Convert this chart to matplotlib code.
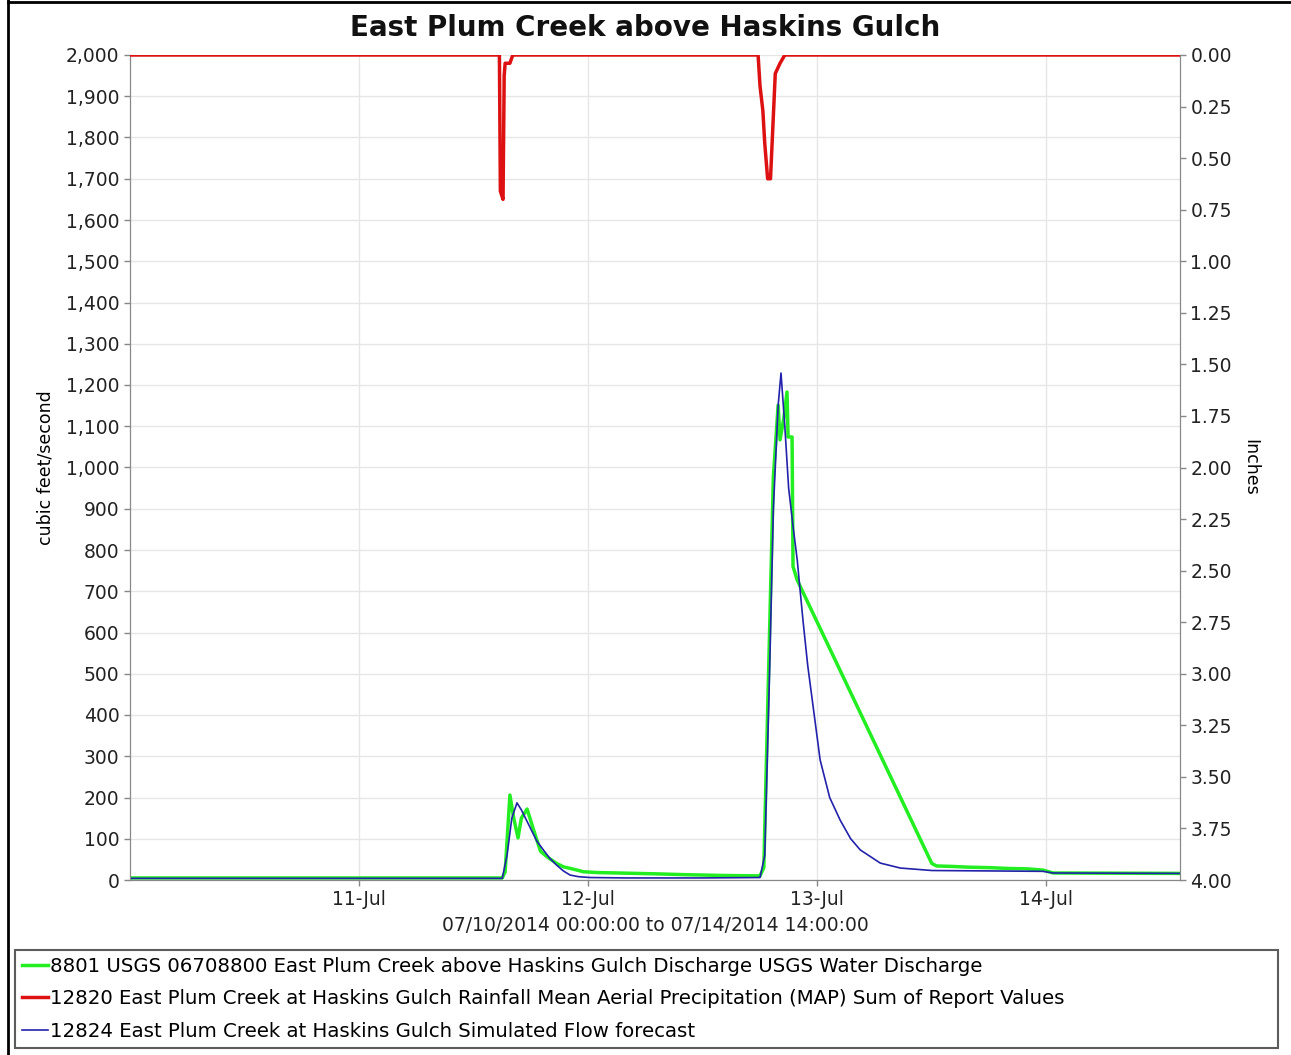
import numpy as np
import pandas as pd
import matplotlib
matplotlib.use("Agg")
import matplotlib.pyplot as plt
import matplotlib.dates as mdates
from matplotlib.ticker import FuncFormatter, MultipleLocator
from matplotlib.lines import Line2D

# Data (hours since 07/10/2014 00:00)
start = pd.Timestamp("2014-07-10 00:00")
end = pd.Timestamp("2014-07-14 14:00")

obs_hours = [0.0, 39.0, 39.3, 39.8, 40.2, 40.65, 41.0, 41.6, 42.3, 43.0, 43.7,
             44.7, 45.4, 46.5, 47.5, 49.0, 51.1, 55.0, 58.0, 62.0, 66.0,
             66.4, 67.4, 67.9, 68.1, 68.5, 68.83, 68.94, 69.36, 69.46, 69.9,
             84.0, 84.5, 86.0, 88.0, 90.0, 92.0, 94.0, 95.65, 96.7, 110.0]
obs_cfs = [5, 5, 20, 206, 150, 102, 150, 172, 120, 70, 56,
           40, 32, 26, 20, 18, 17, 15, 13, 11, 10,
           30, 977, 1151, 1067, 1120, 1183, 1074, 1074, 760, 727,
           40, 34, 33, 31, 30, 28, 27, 24, 17, 16]

sim_hours = [0.0, 39.0, 39.5, 40.0, 40.54, 41.0, 41.9, 42.6, 43.3, 44.0,
             44.7, 45.4, 46.1, 47.0, 48.2, 52.0, 60.0, 66.0, 66.5, 67.0,
             67.4, 67.9, 68.2, 68.6, 69.0, 69.5, 69.9, 70.5, 71.0, 72.3,
             73.3, 74.4, 75.5, 76.5, 78.6, 80.7, 84.0, 90.0, 95.65, 96.7, 110.0]
sim_cfs = [4, 4, 60, 150, 187, 170, 128, 95, 73, 52,
           36, 22, 12, 8, 6, 5, 5, 6, 60, 500,
           900, 1150, 1229, 1100, 950, 850, 776, 630, 520, 291,
           200, 145, 100, 73, 41, 29, 23, 22, 21, 17, 16]

rain_hours = [0.0, 38.7, 38.8, 39.08, 39.2, 39.3, 39.8, 40.1, 65.8, 66.0,
              66.3, 66.5, 66.8, 67.1, 67.6, 68.1, 68.6, 110.0]
rain_in = [0.0, 0.0, 0.66, 0.70, 0.10, 0.04, 0.04, 0.0, 0.0, 0.15,
           0.27, 0.43, 0.60, 0.60, 0.09, 0.04, 0.0, 0.0]

day_ticks = ["2014-07-11", "2014-07-12", "2014-07-13", "2014-07-14"]

title = "East Plum Creek above Haskins Gulch"
legend_labels = [
    "8801 USGS 06708800 East Plum Creek above Haskins Gulch Discharge USGS Water Discharge",
    "12820 East Plum Creek at Haskins Gulch Rainfall Mean Aerial Precipitation (MAP) Sum of Report Values",
    "12824 East Plum Creek at Haskins Gulch Simulated Flow forecast",
]
green = "#22ee22"
red = "#dd1111"
blue = "#2222aa"
axis_gray = "#888888"


def to_time(hours):
    return [start + pd.Timedelta(hours=h) for h in hours]


fig = plt.figure(figsize=(12.91, 10.55), dpi=100)
ax = fig.add_axes([130 / 1291, 1 - 880 / 1055, 1050 / 1291, 825 / 1055])

ax.plot(to_time(obs_hours), obs_cfs, color=green, lw=2.5, zorder=3)
ax.plot(to_time(sim_hours), sim_cfs, color=blue, lw=1.2, zorder=4)

ax.set_xlim(start, end)
ax.set_ylim(0, 2000)
ax.yaxis.set_major_locator(MultipleLocator(100))
ax.yaxis.set_major_formatter(FuncFormatter(lambda v, p: f"{int(v):,}"))
ax.set_xticks([pd.Timestamp(d) for d in day_ticks])
ax.xaxis.set_major_formatter(mdates.DateFormatter("%d-%b"))
ax.grid(True, color="#e6e6e6", lw=1.0)
ax.set_axisbelow(True)
ax.set_ylabel("cubic feet/second", fontsize=12.5, labelpad=8)
ax.set_xlabel("07/10/2014 00:00:00 to 07/14/2014 14:00:00", fontsize=13.5,
              labelpad=5, color="#222222")

ax2 = ax.twinx()
ax2.plot(to_time(rain_hours), rain_in, color=red, lw=2.5, zorder=5)
ax2.set_ylim(4.0, 0.0)
ax2.yaxis.set_major_locator(MultipleLocator(0.25))
ax2.yaxis.set_major_formatter(FuncFormatter(lambda v, p: f"{v:.2f}"))
ax2.set_ylabel("Inches", fontsize=12.5, rotation=-90, va="bottom")
ax2.yaxis.set_label_coords(1.058, 0.5)

for a in (ax, ax2):
    a.spines["top"].set_visible(False)
    for side in ("left", "right", "bottom"):
        a.spines[side].set_color(axis_gray)
    a.tick_params(colors=axis_gray, labelcolor="#222222", labelsize=13.5,
                  length=4, width=1)

fig.text(0.5, 1 - 28 / 1055, title, ha="center", va="center",
         fontsize=20, fontweight="bold", color="#111111")

handles = [Line2D([], [], color=green, lw=2.5),
           Line2D([], [], color=red, lw=2.5),
           Line2D([], [], color=blue, lw=1.2)]
leg = fig.legend(handles, legend_labels, loc="upper left",
                 bbox_to_anchor=(15 / 1291, 1 - 1047 / 1055, 1263 / 1291, 97 / 1055),
                 mode="expand", fontsize=14.2, frameon=True, fancybox=False,
                 handlelength=1.3, handletextpad=0.1, labelspacing=0.68,
                 borderaxespad=0, borderpad=0.35)
leg.get_frame().set_edgecolor("#333333")
leg.get_frame().set_linewidth(1.5)

# outer border
fig.add_artist(Line2D([8 / 1291, 8 / 1291], [0, 1], color="black", lw=2,
                      transform=fig.transFigure))
fig.add_artist(Line2D([8 / 1291, 1], [1 - 2 / 1055, 1 - 2 / 1055], color="black",
                      lw=2, transform=fig.transFigure))

fig.savefig("out.png", dpi=100, facecolor="white")
